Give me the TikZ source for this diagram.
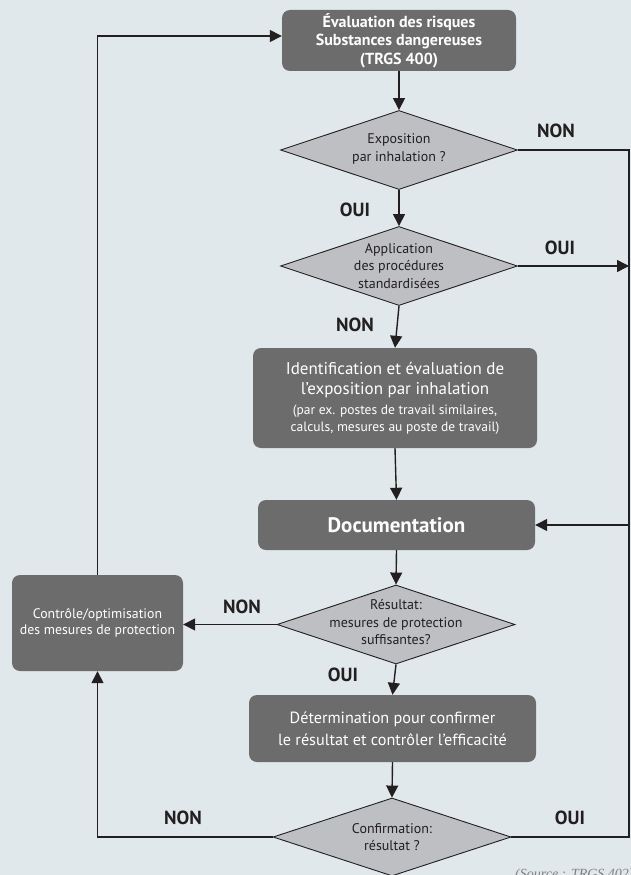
\documentclass[tikz,border=0pt]{standalone}
\usepackage{fontspec}
\setmainfont{PT Sans}
\newfontfamily\srcfont{Liberation Serif}
\usetikzlibrary{shapes.geometric,arrows.meta}
\definecolor{bg}{RGB}{224,232,236}
\definecolor{boxgray}{RGB}{108,108,108}
\definecolor{diagray}{RGB}{190,191,194}
\definecolor{ink}{RGB}{35,31,32}
\tikzset{
  box/.style={fill=boxgray, rounded corners=8pt, text=white, align=center, inner sep=0pt},
  dia/.style={diamond, draw=ink, line width=0.9pt, fill=diagray, inner sep=0pt},
  diatext/.style={align=center, text=ink, font=\fontsize{14}{17.5}\selectfont},
  conn/.style={draw=ink, line width=1.4pt, line join=miter},
  arr/.style={conn, -{Triangle[length=12pt,width=12pt]}},
  yesno/.style={font=\bfseries\fontsize{19}{22}\selectfont, text=ink},
}
\begin{document}
\begin{tikzpicture}[x=1pt,y=-1pt]
\fill[bg] (0,0) rectangle (631,875);
\useasboundingbox (0,0) rectangle (631,875);

% boxes
\node[box, minimum width=234pt, minimum height=61pt, font=\bfseries\fontsize{16}{18.5}\selectfont] (eval) at (399,40.5) {Évaluation des risques\\Substances dangereuses\\(TRGS 400)};
\node[box, minimum width=284pt, minimum height=100pt, font=\fontsize{17}{20}\selectfont] (ident) at (395,398) {Identification et évaluation de\\l’exposition par inhalation\\{\fontsize{13.5}{16}\selectfont (par ex. postes de travail similaires,}\\[-3pt]{\fontsize{13.5}{16}\selectfont calculs, mesures au poste de travail)}};
\node[box, minimum width=277pt, minimum height=50pt, font=\bfseries\fontsize{21}{24}\selectfont] (doc) at (396.5,525) {Documentation};
\node[box, minimum width=171pt, minimum height=96pt, font=\fontsize{13.8}{16}\selectfont] (ctrl) at (97.5,623) {Contrôle/optimisation\\des mesures de protection};
\node[box, minimum width=287pt, minimum height=67pt, font=\fontsize{16.2}{22}\selectfont] (det) at (392.5,728.5) {Détermination pour confirmer\\le résultat et contrôler l’efficacité};

% diamonds
\node[dia, minimum width=237pt, minimum height=79pt] (d1) at (399,150) {};
\node[diatext] (d1t) at ([yshift=1pt]d1.center) {Exposition\\par inhalation ?};
\node[dia, minimum width=237pt, minimum height=79pt] (d2) at (399,266) {};
\node[diatext] (d2t) at (d2.center) {Application\\des procédures\\standardisées};
\node[dia, minimum width=238pt, minimum height=79pt] (d3) at (396,624.5) {};
\node[diatext] (d3t) at ([yshift=2pt]d3.center) {Résultat:\\mesures de protection\\suffisantes?};
\node[dia, minimum width=238pt, minimum height=78pt] (d4) at (392,837) {};
\node[diatext] (d4t) at (d4.center) {Confirmation:\\résultat ?};

\coordinate (R) at (629,0);

% connectors
\draw[arr] (ctrl.north) |- ([yshift=4.5pt]eval.west);
\draw[arr] (eval.south) -- (d1.north);
\draw[arr] (d1.south) -- (d2.north);
\draw[conn] (d1.east) -- (d1.east -| R) -- (d4.east -| R) -- (d4.east);
\draw[arr] (d2.east) -- (d2.east -| R);
\draw[arr] (d2.south) -- (ident.north);
\draw[arr] (ident.south) -- (doc.north);
\draw[arr] (doc.east -| R) -- (doc.east);
\draw[arr] (doc.south) -- (d3.north);
\draw[arr] (d3.west) -- (d3.west -| ctrl.east);
\draw[arr] (d3.south) -- (det.north);
\draw[arr] (det.south) -- (d4.north);
\draw[arr] (d4.west) -| (ctrl.south);

% labels
\node[yesno] (l1) at (556,131) {NON};
\node[yesno] (l2) at (355,210) {OUI};
\node[yesno] (l3) at (560,248) {OUI};
\node[yesno] (l4) at (355,325) {NON};
\node[yesno] (l5) at (242,607) {NON};
\node[yesno] (l6) at (343,675) {OUI};
\node[yesno] (l7) at (183,818) {NON};
\node[yesno] (l8) at (570,818) {OUI};

\node[anchor=north west, inner sep=0pt, font=\srcfont\itshape\fontsize{14}{16}\selectfont, text=gray] (src) at (515,869) {(Source : TRGS 402)};
\end{tikzpicture}
\end{document}
